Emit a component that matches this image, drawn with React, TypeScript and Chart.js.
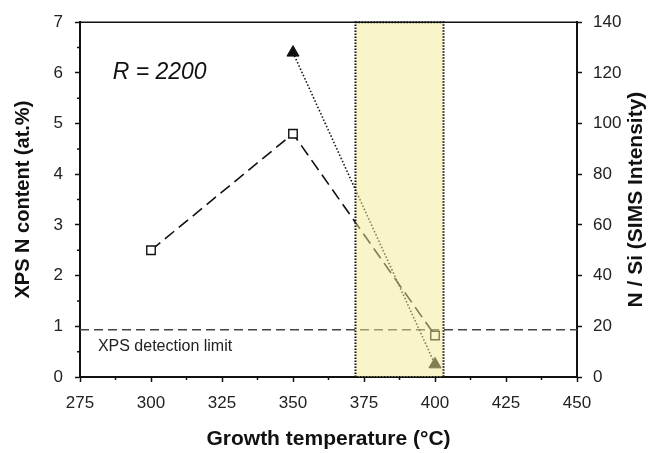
import React, { useEffect, useRef } from 'react';
import { Chart, registerables } from 'chart.js';
Chart.register(...registerables);

const temperatures = [300, 350, 400];
const xpsContent = [2.5, 4.8, 0.82];
const simsTemperatures = [350, 400];
const simsIntensity = [128, 5];
const detectionLimit = 0.93;
const detectionSpan = [275, 450];
const shadedRange = [372, 403];
const xRange = [275, 450, 25];
const leftRange = [0, 7, 1];
const rightRange = [0, 140, 20];
const xMinor = [287.5, 312.5, 337.5, 362.5, 387.5, 412.5, 437.5];
const leftMinor = [0.5, 1.5, 2.5, 3.5, 4.5, 5.5, 6.5];
const annotationText = 'R = 2200';
const annotationPos = [286.5, 5.88];
const detectionLabel = 'XPS detection limit';
const detectionLabelPos = [281.3, 0.52];
const xTitle = 'Growth temperature (\u00B0C)';
const leftTitle = 'XPS N content (at.%)';
const rightTitle = 'N / Si (SIMS Intensity)';

const FONT = 'Arial, "Liberation Sans", Helvetica, sans-serif';

const overlayPlugin = {
  id: 'overlay',
  afterDatasetsDraw(chart: any) {
    const { ctx, chartArea, scales } = chart;
    const x = scales.x;
    const y = scales.y;
    ctx.save();
    ctx.fillStyle = '#111';
    ctx.textBaseline = 'alphabetic';
    ctx.textAlign = 'left';
    ctx.font = `italic 23px ${FONT}`;
    ctx.fillText(annotationText, x.getPixelForValue(annotationPos[0]), y.getPixelForValue(annotationPos[1]));
    ctx.font = `16px ${FONT}`;
    ctx.fillStyle = '#222';
    ctx.fillText(detectionLabel, x.getPixelForValue(detectionLabelPos[0]), y.getPixelForValue(detectionLabelPos[1]));
    const x0 = x.getPixelForValue(shadedRange[0]);
    const x1 = x.getPixelForValue(shadedRange[1]);
    ctx.fillStyle = 'rgba(241,236,150,0.5)';
    ctx.fillRect(x0, chartArea.top, x1 - x0, chartArea.bottom - chartArea.top);
    ctx.setLineDash([1.5, 1.5]);
    ctx.lineWidth = 2;
    ctx.strokeStyle = '#111';
    ctx.strokeRect(x0, chartArea.top, x1 - x0, chartArea.bottom - chartArea.top);
    ctx.setLineDash([]);
    ctx.lineWidth = 1.5;
    ctx.beginPath();
    ctx.moveTo(chartArea.left, chartArea.top);
    ctx.lineTo(chartArea.right, chartArea.top);
    ctx.stroke();
    ctx.restore();
  },
  afterDraw(chart: any) {
    const { ctx, chartArea, scales } = chart;
    ctx.save();
    ctx.strokeStyle = '#111';
    ctx.lineWidth = 1.5;
    ctx.beginPath();
    for (const v of xMinor) {
      const px = scales.x.getPixelForValue(v);
      ctx.moveTo(px, chartArea.bottom);
      ctx.lineTo(px, chartArea.bottom + 3);
    }
    for (const v of leftMinor) {
      const py = scales.y.getPixelForValue(v);
      ctx.moveTo(chartArea.left, py);
      ctx.lineTo(chartArea.left - 3, py);
    }
    ctx.stroke();
    // right axis title, reading bottom-to-top
    ctx.translate(scales.y2.right - 18, (chartArea.top + chartArea.bottom) / 2);
    ctx.rotate(-Math.PI / 2);
    ctx.font = `bold 21px ${FONT}`;
    ctx.fillStyle = '#111';
    ctx.textAlign = 'center';
    ctx.textBaseline = 'middle';
    ctx.fillText(rightTitle, 0, 0);
    ctx.restore();
  },
};

export default function App() {
  const ref = useRef<HTMLCanvasElement>(null);
  useEffect(() => {
    if (!ref.current) return;
    const grid = {
      drawOnChartArea: false,
      drawTicks: true,
      tickLength: 5,
      tickColor: '#111',
      tickWidth: 1.5,
    };
    const border = { display: true, color: '#111', width: 2 };
    const tickFont = { family: FONT, size: 17 };
    const chart = new Chart(ref.current, {
      type: 'line',
      data: {
        datasets: [
          {
            label: 'XPS',
            data: temperatures.map((t, i) => ({ x: t, y: xpsContent[i] })),
            yAxisID: 'y',
            borderColor: '#111',
            borderWidth: 1.6,
            borderDash: [12, 6],
            pointStyle: 'rect',
            pointRadius: 6,
            pointBorderWidth: 1.4,
            pointBorderColor: '#111',
            pointBackgroundColor: '#fff',
            fill: false,
            tension: 0,
          },
          {
            label: 'SIMS',
            data: simsTemperatures.map((t, i) => ({ x: t, y: simsIntensity[i] })),
            yAxisID: 'y2',
            borderColor: '#111',
            borderWidth: 1.6,
            borderDash: [1.5, 2],
            pointStyle: 'triangle',
            pointRadius: 7,
            pointBorderWidth: 1,
            pointBorderColor: '#111',
            pointBackgroundColor: '#111',
            fill: false,
            tension: 0,
          },
          {
            label: 'Detection limit',
            data: detectionSpan.map((t) => ({ x: t, y: detectionLimit })),
            yAxisID: 'y',
            borderColor: '#444',
            borderWidth: 1.5,
            borderDash: [9, 5],
            pointRadius: 0,
            fill: false,
          },
        ],
      },
      options: {
        animation: false,
        responsive: false,
        layout: { padding: { top: 20, left: 0, right: 0, bottom: 0 } },
        plugins: { legend: { display: false }, tooltip: { enabled: false } },
        scales: {
          x: {
            type: 'linear',
            min: xRange[0],
            max: xRange[1],
            ticks: { stepSize: xRange[2], color: '#222', font: tickFont, padding: 11, maxRotation: 0 },
            grid,
            border,
            title: { display: true, text: xTitle, color: '#111', font: { family: FONT, size: 21, weight: 'bold' }, padding: { top: 0, bottom: 1 } },
            afterFit: (s: any) => { s.height = 76; },
          },
          y: {
            type: 'linear',
            position: 'left',
            min: leftRange[0],
            max: leftRange[1],
            ticks: { stepSize: leftRange[2], color: '#222', font: tickFont, padding: 12 },
            grid,
            border,
            title: { display: true, text: leftTitle, color: '#111', font: { family: FONT, size: 20, weight: 'bold' }, padding: { top: 11, bottom: 0 } },
            afterFit: (s: any) => { s.width = 80; },
          },
          y2: {
            type: 'linear',
            position: 'right',
            min: rightRange[0],
            max: rightRange[1],
            ticks: { stepSize: rightRange[2], color: '#222', font: tickFont, padding: 11 },
            grid,
            border,
            title: { display: false },
            afterFit: (s: any) => { s.width = 77; },
          },
        },
      },
      plugins: [overlayPlugin],
    });
    return () => chart.destroy();
  }, []);
  return (
    <div style={{ position: 'fixed', left: 0, top: 0, width: 654, height: 453, background: '#fff' }}>
      <canvas ref={ref} width={654} height={453} />
    </div>
  );
}
